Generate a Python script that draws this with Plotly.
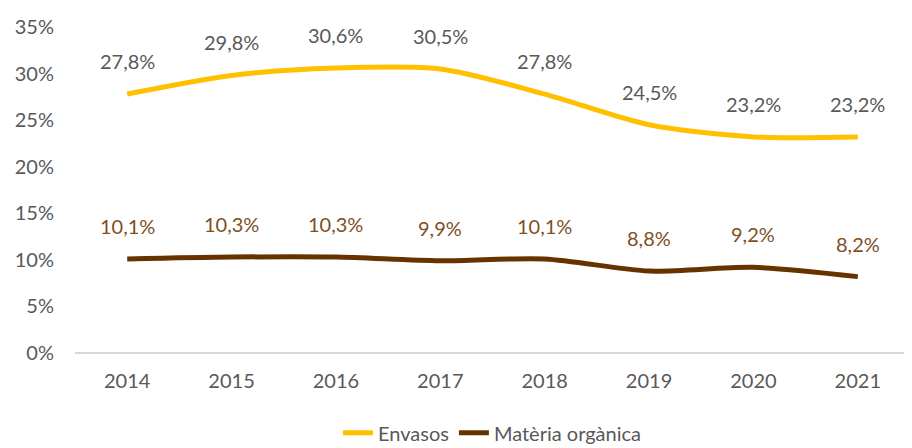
import plotly.graph_objects as go

years = ["2014", "2015", "2016", "2017", "2018", "2019", "2020", "2021"]
envasos = [27.8, 29.8, 30.6, 30.5, 27.8, 24.5, 23.2, 23.2]
materia = [10.1, 10.3, 10.3, 9.9, 10.1, 8.8, 9.2, 8.2]
y_ticks = [0, 5, 10, 15, 20, 25, 30, 35]

FONT = "Lato, Open Sans, sans-serif"
YELLOW = "#FFC000"
BROWN = "#663300"

def fmt(v):
    return f"{v:.1f}".replace(".", ",") + "%"

fig = go.Figure()
fig.add_trace(go.Scatter(x=years, y=envasos, mode="lines", name="Envasos",
                         line=dict(color=YELLOW, width=5, shape="spline", smoothing=0.8)))
fig.add_trace(go.Scatter(x=years, y=materia, mode="lines", name="Matèria orgànica",
                         line=dict(color=BROWN, width=5, shape="spline", smoothing=0.8)))

for i, v in enumerate(envasos):
    fig.add_annotation(x=i, y=v, xref="x", yref="y", text=fmt(v), showarrow=False, yshift=33,
                       font=dict(family=FONT, size=20, color="#595959"))
for i, v in enumerate(materia):
    fig.add_annotation(x=i, y=v, xref="x", yref="y", text=fmt(v), showarrow=False, yshift=33,
                       font=dict(family=FONT, size=20, color="#7F4F1F"))

fig.update_layout(
    width=904, height=440,
    margin=dict(l=67, r=2, t=19, b=95, autoexpand=False),
    plot_bgcolor="white", paper_bgcolor="white",
    font=dict(family=FONT, size=20, color="#595959"),
    showlegend=True,
    legend=dict(orientation="h", x=0.5, xanchor="center", y=-0.245, yanchor="middle",
                font=dict(family=FONT, size=20, color="#595959")),
    xaxis=dict(type="category", range=[-0.5, 7.5], showgrid=False, zeroline=False,
               showline=False, ticks="", ticklabelstandoff=14,
               tickfont=dict(family=FONT, size=20, color="#595959")),
    yaxis=dict(range=[0, 35], tickvals=y_ticks, ticktext=[f"{t}%" for t in y_ticks],
               showgrid=False, zeroline=True, zerolinecolor="#D9D9D9", zerolinewidth=1.5,
               showline=False, ticks="", ticklabelstandoff=20,
               tickfont=dict(family=FONT, size=20, color="#595959")),
)

fig.write_html("out.html")
